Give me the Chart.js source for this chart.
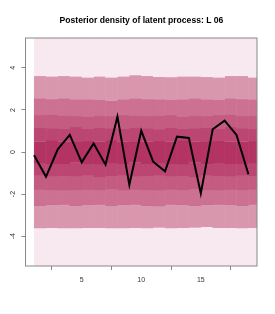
<!DOCTYPE html>
<html>
<head>
<meta charset="utf-8">
<script src="https://cdn.jsdelivr.net/npm/chart.js@4/dist/chart.umd.min.js"></script>
<style>
  html, body { margin: 0; padding: 0; background: #fff; }
  #wrap { width: 275px; height: 314px; }
</style>
</head>
<body>
<div id="wrap"><canvas id="myChart" width="275" height="314"></canvas></div>
<script>
// Time steps and posterior mean of the latent process
const steps = [1, 2, 3, 4, 5, 6, 7, 8, 9, 10, 11, 12, 13, 14, 15, 16, 17, 18, 19];
const latent = [-0.15, -1.18, 0.14, 0.81, -0.49, 0.41, -0.6, 1.68, -1.56, 1.01,
                -0.46, -0.92, 0.73, 0.67, -1.97, 1.08, 1.49, 0.81, -1.06];

// Density band edges per time step (top to bottom)
const up4 = [3.62, 3.6, 3.62, 3.6, 3.55, 3.6, 3.55, 3.6, 3.65, 3.62, 3.58, 3.56, 3.6, 3.6, 3.57, 3.55, 3.62, 3.62, 3.55];
const up3 = [2.55, 2.52, 2.55, 2.5, 2.5, 2.48, 2.45, 2.5, 2.55, 2.52, 2.5, 2.48, 2.5, 2.55, 2.5, 2.48, 2.55, 2.52, 2.5];
const up2 = [1.75, 1.78, 1.72, 1.7, 1.68, 1.72, 1.7, 1.75, 1.72, 1.7, 1.72, 1.75, 1.68, 1.72, 1.7, 1.75, 1.78, 1.7, 1.72];
const up1 = [1.15, 1.12, 1.1, 1.18, 1.1, 1.15, 1.12, 1.1, 1.15, 1.12, 1.08, 1.15, 1.1, 1.12, 1.15, 1.1, 1.18, 1.12, 1.1];
const up0 = [0.5, 0.55, 0.5, 0.48, 0.52, 0.5, 0.55, 0.5, 0.48, 0.5, 0.52, 0.5, 0.55, 0.5, 0.48, 0.52, 0.5, 0.5, 0.52];
const low0 = [-0.52, -0.55, -0.55, -0.5, -0.55, -0.58, -0.52, -0.55, -0.5, -0.55, -0.52, -0.55, -0.58, -0.5, -0.55, -0.52, -0.55, -0.55, -0.52];
const low1 = [-1.1, -1.15, -1.12, -1.15, -1.1, -1.18, -1.12, -1.1, -1.15, -1.12, -1.1, -1.15, -1.12, -1.18, -1.1, -1.12, -1.15, -1.1, -1.12];
const low2 = [-1.78, -1.8, -1.82, -1.8, -1.78, -1.8, -1.75, -1.82, -1.78, -1.8, -1.82, -1.78, -1.8, -1.75, -1.8, -1.82, -1.78, -1.8, -1.78];
const low3 = [-2.55, -2.5, -2.52, -2.55, -2.5, -2.52, -2.55, -2.5, -2.52, -2.55, -2.58, -2.52, -2.5, -2.55, -2.5, -2.52, -2.5, -2.55, -2.52];
const low4 = [-3.62, -3.6, -3.62, -3.62, -3.6, -3.6, -3.62, -3.62, -3.6, -3.62, -3.58, -3.62, -3.6, -3.58, -3.55, -3.6, -3.6, -3.62, -3.6];
const topEdge = steps.map(() => 6);
const bottomEdge = steps.map(() => -6);

const xTicks = [5, 10, 15];
const yTicks = [-4, -2, 0, 2, 4];

// band colours, light to dark
const shade = ['#f7e9ef', '#d997ae', '#cc7191', '#c45b80', '#bb4672', '#b33462'];

function band(lo, hi, color) {
    return {
        type: 'bar',
        data: steps.map((s, i) => ({ x: s + 0.5, y: [lo[i], hi[i]] })),
        backgroundColor: color,
        borderColor: color,
        borderWidth: 0.5,
        borderSkipped: false,
        barPercentage: 1,
        categoryPercentage: 1,
        grouped: false,
        order: 1,
    };
}

const bands = [
    band(up4, topEdge, shade[0]),
    band(up3, up4, shade[1]),
    band(up2, up3, shade[2]),
    band(up1, up2, shade[3]),
    band(up0, up1, shade[4]),
    band(low0, up0, shade[5]),
    band(low1, low0, shade[4]),
    band(low2, low1, shade[3]),
    band(low3, low2, shade[2]),
    band(low4, low3, shade[1]),
    band(bottomEdge, low4, shade[0]),
];

const boxPlugin = {
    id: 'box',
    afterDraw(chart) {
        const a = chart.chartArea;
        const c = chart.ctx;
        c.save();
        c.strokeStyle = '#888';
        c.lineWidth = 1;
        c.strokeRect(a.left, a.top, a.right - a.left, a.bottom - a.top);
        c.restore();
    }
};

const tickFont = { family: 'Liberation Sans, Arial, sans-serif', size: 7 };

const ctx = document.getElementById('myChart').getContext('2d');
const myChart = new Chart(ctx, {
    type: 'bar',
    data: {
        datasets: [
            {
                type: 'line',
                data: steps.map((s, i) => ({ x: s, y: latent[i] })),
                borderColor: '#000',
                borderWidth: 2,
                pointRadius: 0,
                tension: 0,
                fill: false,
                order: 0,
            },
            ...bands,
        ],
    },
    options: {
        responsive: false,
        animation: false,
        layout: { padding: { left: 8, right: 0, top: 0, bottom: 0 } },
        plugins: {
            legend: { display: false },
            tooltip: { enabled: false },
            title: {
                display: true,
                text: 'Posterior density of latent process: L 06',
                color: '#000',
                font: { family: 'Liberation Sans, Arial, sans-serif', size: 8.6, weight: 'bold' },
                padding: { top: 15, bottom: 12.7 },
            },
        },
        scales: {
            x: {
                type: 'linear',
                position: 'bottom',
                min: 0.28,
                max: 19.72,
                offset: false,
                afterBuildTicks: (s) => { s.ticks = xTicks.map(v => ({ value: v })); },
                afterFit: (s) => { s.height = 48; },
                grid: { display: true, drawOnChartArea: false, drawTicks: true, tickLength: 4, color: '#888' },
                border: { display: false },
                ticks: { font: tickFont, color: '#333', padding: 6, maxRotation: 0, autoSkip: false },
            },
            y: {
                type: 'linear',
                position: 'left',
                min: -5.42,
                max: 5.42,
                afterBuildTicks: (s) => { s.ticks = yTicks.map(v => ({ value: v })); },
                afterFit: (s) => { s.width = 17.5; },
                grid: { display: true, drawOnChartArea: false, drawTicks: true, tickLength: 4, color: '#888' },
                border: { display: false },
                ticks: { font: tickFont, color: '#333', padding: 5, minRotation: 90, maxRotation: 90, crossAlign: 'center', autoSkip: false },
            },
            // empty right margin
            yRight: {
                type: 'linear',
                position: 'right',
                display: true,
                afterFit: (s) => { s.width = 18; },
                grid: { display: false },
                border: { display: false },
                ticks: { display: false },
            },
        },
    },
    plugins: [boxPlugin],
});
</script>
</body>
</html>
